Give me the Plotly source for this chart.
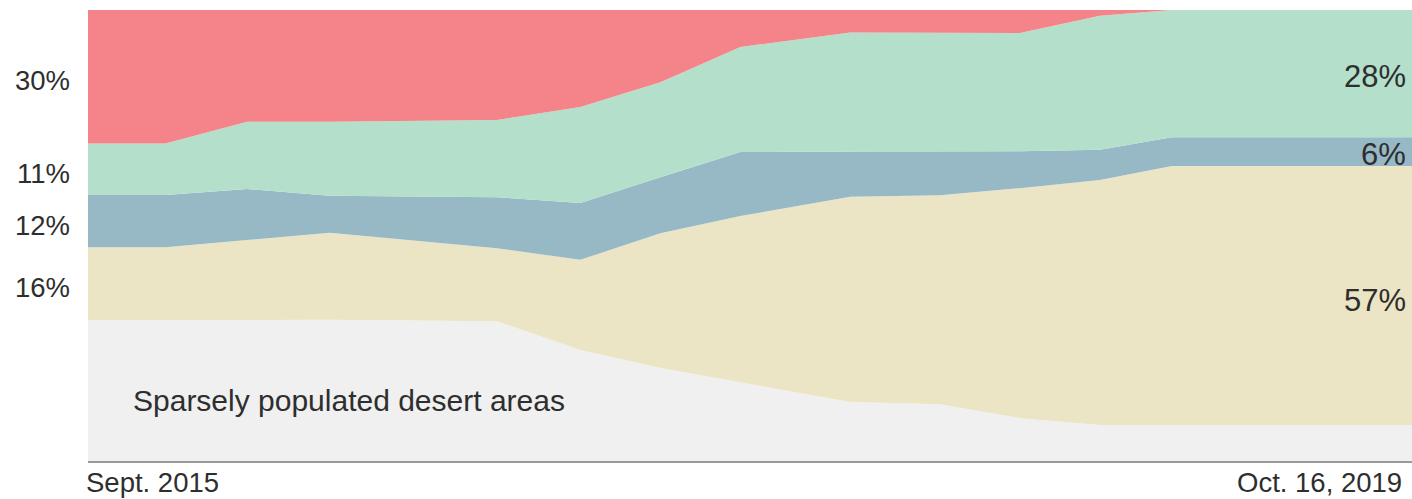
import plotly.graph_objects as go

# Survey dates
dates = [
    "2015-09-01", "2015-11-28", "2016-02-29", "2016-06-02", "2016-12-09",
    "2017-03-14", "2017-06-13", "2017-09-12", "2018-01-15", "2018-04-27",
    "2018-07-27", "2018-10-26", "2019-01-16", "2019-10-16",
]

# Share of territory (%) per group, bottom to top
desert = [31.2, 31.2, 31.3, 31.3, 31.0, 24.6, 20.6, 17.5, 13.1, 12.6, 9.5, 8.0, 8.0, 8.0]
beige = [16.2, 16.2, 17.7, 19.3, 16.2, 20.0, 29.9, 36.8, 45.5, 46.3, 51.0, 54.3, 57.4, 57.4]
blue = [11.6, 11.6, 11.3, 8.2, 11.3, 12.6, 12.4, 14.2, 10.0, 9.8, 8.2, 6.7, 6.4, 6.4]
mint = [11.4, 11.4, 14.9, 16.4, 17.1, 21.3, 21.1, 23.3, 26.4, 26.2, 26.2, 29.7, 28.2, 28.2]
red = [29.6, 29.6, 24.8, 24.8, 24.4, 21.5, 16.0, 8.2, 5.0, 5.1, 5.1, 1.3, 0.0, 0.0]

start_label = "Sept. 2015"
end_label = "Oct. 16, 2019"
desert_label = "Sparsely populated desert areas"

layers = [
    (desert, "#f0f0f0"),
    (beige, "#ebe5c5"),
    (blue, "#97b9c6"),
    (mint, "#b3dfcb"),
    (red, "#f4848a"),
]

FONT = "Arial, Liberation Sans, sans-serif"
TEXT = "#2e2e2e"

fig = go.Figure()
for vals, color in layers:
    fig.add_trace(go.Scatter(
        x=dates, y=vals, mode="lines", stackgroup="one",
        line=dict(width=0, color=color), fillcolor=color,
        hoverinfo="skip", showlegend=False,
    ))

annotations = []


def mids(idx):
    """Vertical midpoint and value of every layer at one date."""
    out = []
    base = 0.0
    for vals, _ in layers:
        v = vals[idx]
        out.append((base + v / 2.0, v))
        base += v
    return out


# Left-side labels: share of each coloured group at the first date
left_mids = mids(0)
for k in (1, 2, 3, 4):
    mid, v = left_mids[k]
    annotations.append(dict(
        x=0, xref="paper", xanchor="right", xshift=-16,
        y=mid, yref="y", yanchor="middle", yshift=-4,
        text=f"{round(v)}%", showarrow=False,
        font=dict(family=FONT, size=27.5, color=TEXT),
    ))

# Right-side labels: share at the latest date
right_mids = mids(len(dates) - 1)
for k in (1, 2, 3):
    mid, v = right_mids[k]
    annotations.append(dict(
        x=1, xref="paper", xanchor="right", xshift=-4,
        y=mid, yref="y", yanchor="middle", yshift=-3 if k != 1 else -5,
        text=f"{round(v)}%", showarrow=False,
        font=dict(family=FONT, size=31, color=TEXT),
    ))

annotations.append(dict(
    x=dates[0], xref="x", xanchor="left", xshift=43,
    y=13.5, yref="y", yanchor="middle",
    text=desert_label, showarrow=False,
    font=dict(family=FONT, size=30, color=TEXT),
))

annotations.append(dict(
    x=0, xref="paper", xanchor="left", xshift=-4,
    y=0, yref="paper", yanchor="top", yshift=-4,
    text=start_label, showarrow=False,
    font=dict(family=FONT, size=27.5, color=TEXT),
))
annotations.append(dict(
    x=1, xref="paper", xanchor="right", xshift=-8,
    y=0, yref="paper", yanchor="top", yshift=-4,
    text=end_label, showarrow=False,
    font=dict(family=FONT, size=27.5, color=TEXT),
))

fig.update_layout(
    width=1412, height=499,
    margin=dict(l=88, r=0, t=10, b=38),
    paper_bgcolor="white", plot_bgcolor="white",
    xaxis=dict(
        type="date", range=[dates[0], dates[-1]],
        showticklabels=False, showgrid=False, zeroline=False,
        showline=True, linecolor="#9a9a9a", linewidth=2, ticks="",
        fixedrange=True,
    ),
    yaxis=dict(
        range=[0, 100], visible=False, showgrid=False, zeroline=False,
        fixedrange=True,
    ),
    annotations=annotations,
    hovermode=False,
)

fig.write_html("out.html", config={"displayModeBar": False})
